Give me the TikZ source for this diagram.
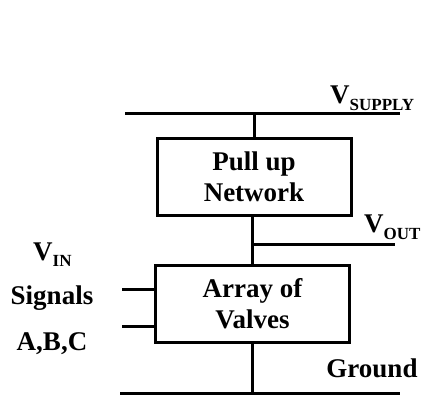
\documentclass[tikz,border=0pt]{standalone}
\usepackage{fontspec}
\setmainfont{Liberation Serif}
\newcommand\lsub[1]{\raisebox{-6pt}{\fontsize{17}{17}\selectfont #1}}
\begin{document}
\begin{tikzpicture}[x=1pt,y=-1pt,
  wire/.style={line width=3pt},
  blk/.style={draw, line width=3pt, minimum width=194pt, minimum height=77pt, inner sep=0pt, outer sep=0pt, align=center, font=\fontsize{27}{31}\selectfont\bfseries},
  lbl/.style={font=\fontsize{27}{31}\selectfont\bfseries, inner sep=0pt}]
\useasboundingbox (0,0) rectangle (421,396);
% blocks
\node[blk] (pu) at (254,177) {Pull up\\Network};
\node[blk] (av) at (252.5,304) {Array of\\Valves};
% rails
\coordinate (sl) at (125,114);
\coordinate (sr) at (400,114);
\coordinate (gl) at (120,393);
\coordinate (gr) at (400,393);
\coordinate (vo) at (395,244);
\coordinate (ia) at (122,289);
\coordinate (ib) at (122,326);
\draw[wire] (sl) -- (sr);
\draw[wire] (gl) -- (gr);
\draw[wire] (pu.north) -- (pu.north |- sl);
\draw[wire] (pu.south -| av.north) -- (av.north);
\draw[wire] (av.north |- vo) -- (vo);
\draw[wire] (av.south) -- (av.south |- gl);
\draw[wire] (ia) -- (ia -| av.west);
\draw[wire] (ib) -- (ib -| av.west);
% labels
\node[lbl, anchor=base west] (vs) at (330,104) {V\lsub{SUPPLY}};
\node[lbl, anchor=base west] (vout) at (364,233) {V\lsub{OUT}};
\node[lbl, anchor=base west] (vin) at (33,260) {V\lsub{IN}};
\node[lbl, anchor=base] (sig) at (52,304) {Signals};
\node[lbl, anchor=base] (abc) at (52,350) {A,B,C};
\node[lbl, anchor=base] (gnd) at (372,377) {Ground};
\end{tikzpicture}
\end{document}
